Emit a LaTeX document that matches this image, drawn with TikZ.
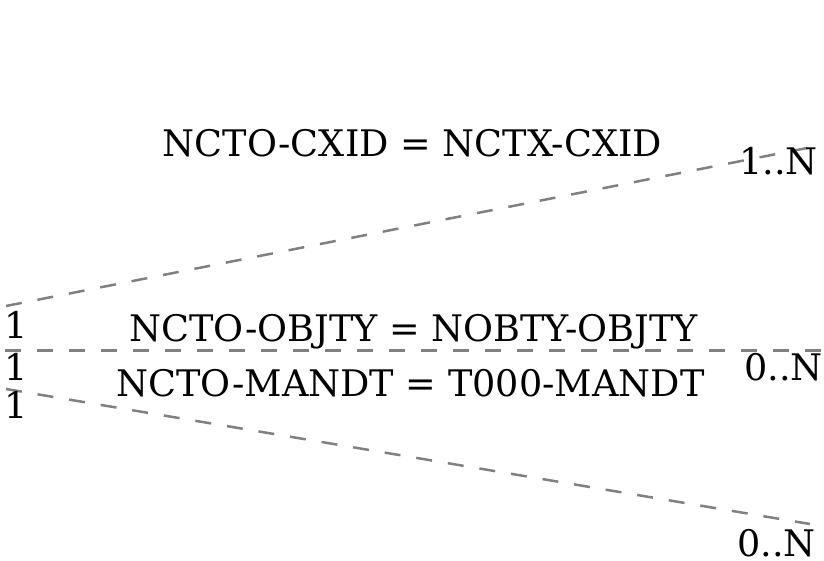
\documentclass[tikz,border=0pt]{standalone}
\usepackage{fontspec}
\setmainfont{DejaVu Serif}
\begin{document}
\begin{tikzpicture}[x=1pt,y=-1pt,
  rel/.style={draw=black!50, line width=2.5pt, dash pattern=on 16pt off 16pt},
  lbl/.style={inner sep=0pt, font=\fontsize{36.6}{40}\selectfont}]
\useasboundingbox (0,0) rectangle (824,561);
% end points
\coordinate (s1) at (6,306);
\coordinate (t1) at (807,148);
\coordinate (s2) at (5,350.7);
\coordinate (t2) at (826,350.7);
\coordinate (s3) at (6,389);
\coordinate (t3) at (810,524);
% connectors
\draw[rel] (s1) -- (t1);
\draw[rel] (s2) -- (t2);
\draw[rel] (s3) -- (t3);
% labels
\node[lbl, anchor=base] (l1) at (412.5,156.5) {NCTO-CXID = NCTX-CXID};
\node[lbl, anchor=base east] (c1) at (818,175) {1..N};
\node[lbl, anchor=base] (o1) at (16.5,338) {1};
\node[lbl, anchor=base] (l2) at (413.5,341.5) {NCTO-OBJTY = NOBTY-OBJTY};
\node[lbl, anchor=base east] (c2) at (823,380.5) {0..N};
\node[lbl, anchor=base] (o2) at (16.5,380) {1};
\node[lbl, anchor=base] (l3) at (410.5,396.5) {NCTO-MANDT = T000-MANDT};
\node[lbl, anchor=base] (o3) at (16.5,418) {1};
\node[lbl, anchor=base east] (c3) at (816,556) {0..N};
\end{tikzpicture}
\end{document}
